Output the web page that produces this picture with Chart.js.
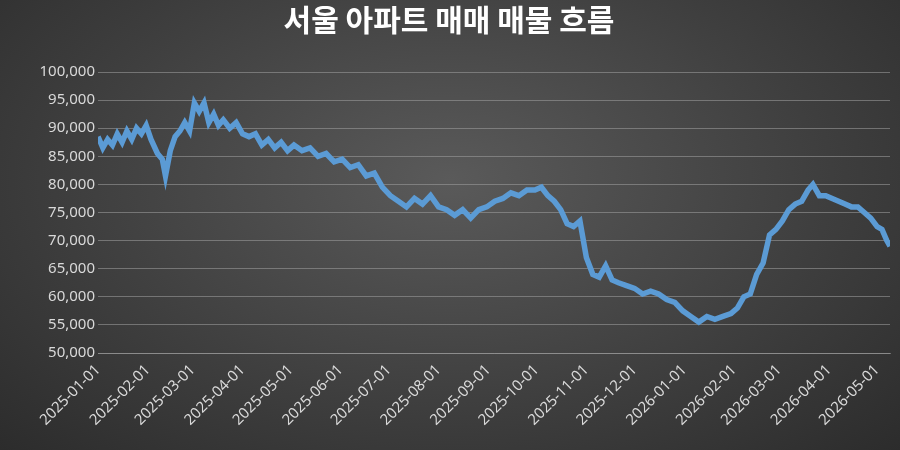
<!DOCTYPE html>
<html>
<head>
<meta charset="utf-8">
<script src="https://cdn.jsdelivr.net/npm/chart.js@4"></script>
<style>
  html, body { margin: 0; padding: 0; }
  body { width: 900px; height: 450px; background: radial-gradient(ellipse at 50% 40%, #5a5a5a 0%, #3e3e3e 60%, #2c2c2c 100%); }
  #wrap { width: 900px; height: 450px; }
</style>
</head>
<body>
<div id="wrap"><canvas id="c"></canvas></div>
<script>
// 읽어낸 값 (날짜 / 매물 수)
const dates = [
  '2025-01-01','2025-01-04','2025-01-07','2025-01-10','2025-01-13','2025-01-16','2025-01-19','2025-01-22','2025-01-25','2025-01-28','2025-01-31',
  '2025-02-03','2025-02-07','2025-02-10','2025-02-12','2025-02-15','2025-02-18','2025-02-21','2025-02-24','2025-02-27',
  '2025-03-02','2025-03-05','2025-03-08','2025-03-11','2025-03-14','2025-03-17','2025-03-20','2025-03-24','2025-03-28',
  '2025-04-01','2025-04-05','2025-04-09','2025-04-13','2025-04-17','2025-04-21','2025-04-25','2025-04-29',
  '2025-05-03','2025-05-08','2025-05-13','2025-05-18','2025-05-23','2025-05-28',
  '2025-06-02','2025-06-07','2025-06-12','2025-06-17','2025-06-22','2025-06-27',
  '2025-07-02','2025-07-07','2025-07-12','2025-07-17','2025-07-22','2025-07-27',
  '2025-08-01','2025-08-06','2025-08-11','2025-08-16','2025-08-21','2025-08-26','2025-08-31',
  '2025-09-05','2025-09-10','2025-09-15','2025-09-20','2025-09-25','2025-09-30',
  '2025-10-04','2025-10-08','2025-10-12','2025-10-16','2025-10-20','2025-10-24','2025-10-28',
  '2025-11-01','2025-11-05','2025-11-09','2025-11-13','2025-11-17','2025-11-21','2025-11-26',
  '2025-12-01','2025-12-06','2025-12-11','2025-12-16','2025-12-21','2025-12-26','2025-12-31',
  '2026-01-05','2026-01-10','2026-01-15','2026-01-20','2026-01-25','2026-01-30',
  '2026-02-03','2026-02-07','2026-02-11','2026-02-15','2026-02-19','2026-02-23','2026-02-27',
  '2026-03-03','2026-03-07','2026-03-11','2026-03-15','2026-03-19','2026-03-22','2026-03-26','2026-03-30',
  '2026-04-03','2026-04-07','2026-04-11','2026-04-15','2026-04-19','2026-04-23','2026-04-27',
  '2026-05-01','2026-05-04','2026-05-07','2026-05-09'
];
const listings = [
  88500,86500,88000,87000,89000,87500,89500,88000,90000,89000,90500,
  88000,85500,84500,81500,86000,88500,89500,91000,89500,
  94500,93000,94500,91000,92500,90500,91500,90000,91000,
  89000,88500,89000,87000,88000,86500,87500,86000,
  87000,86000,86500,85000,85500,84000,
  84500,83000,83500,81500,82000,79500,
  78000,77000,76000,77500,76500,78000,
  76000,75500,74500,75500,74000,75500,76000,
  77000,77500,78500,78000,79000,79000,
  79500,78000,77000,75500,73000,72500,73500,
  67000,64000,63500,65500,63000,62500,62000,
  61500,60500,61000,60500,59500,59000,57500,
  56500,55500,56500,56000,56500,57000,
  58000,60000,60500,64000,66000,71000,72000,
  73500,75500,76500,77000,79000,80000,78000,78000,
  77500,77000,76500,76000,76000,75000,74000,
  72500,72000,70000,69000
];
const yTicks = [50000, 100000, 5000]; // min, max, step

const monthTicks = [];
for (let y = 2025, m = 0; y < 2026 || (y === 2026 && m <= 4); m++) {
  if (m > 11) { m = 0; y++; }
  monthTicks.push(Date.UTC(y, m, 1));
}
const dayMs = 864e5;
const base = Date.UTC(2025, 0, 1);
const points = dates.map((d, i) => ({ x: (Date.parse(d) - base) / dayMs, y: listings[i] }));
const fmtDate = v => new Date(base + v * dayMs).toISOString().slice(0, 10);

const colorText = '#d9d9d9';
const colorGrid = 'rgba(160,160,160,.55)';

new Chart(document.getElementById('c'), {
  type: 'line',
  data: { datasets: [{ data: points, borderColor: '#5b9bd5', borderWidth: 5.5, pointRadius: 0, tension: 0 }] },
  options: {
    responsive: true, maintainAspectRatio: false, animation: false,
    layout: { padding: { left: 8, right: 10, top: 2, bottom: 0 } },
    plugins: {
      legend: { display: false },
      title: { display: true, text: '서울 아파트 매매 매물 흐름', color: '#ffffff',
        font: { family: 'Noto Sans CJK KR', size: 30, weight: 'bold' }, padding: { top: 0, bottom: 34 } }
    },
    scales: {
      x: {
        type: 'linear', min: 0, max: (Date.UTC(2026, 4, 9) - base) / dayMs,
        afterBuildTicks: ax => { ax.ticks = monthTicks.map(t => ({ value: (t - base) / dayMs })); },
        afterFit: ax => { ax.height = 97; },
        ticks: { color: colorText, font: { family: 'Noto Sans', size: 15 }, maxRotation: 45, minRotation: 45, callback: v => fmtDate(v), autoSkip: false },
        grid: { display: false, drawTicks: true, tickLength: 5, color: colorGrid },
        border: { color: colorGrid }
      },
      y: {
        min: yTicks[0], max: yTicks[1],
        afterFit: ax => { ax.width = 90; },
        ticks: { stepSize: yTicks[2], color: colorText, font: { family: 'Noto Sans', size: 15 }, callback: v => v.toLocaleString('en-US') },
        grid: { color: colorGrid, drawTicks: false },
        border: { display: false }
      }
    }
  }
});
</script>
</body>
</html>
